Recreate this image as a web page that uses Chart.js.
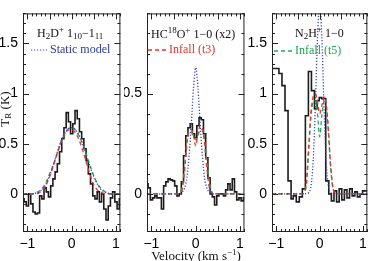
<!DOCTYPE html>
<html>
<head>
<meta charset="utf-8">
<script src="https://cdn.jsdelivr.net/npm/chart.js@4.4.1/dist/chart.umd.min.js"></script>
<style>
  body { margin: 0; background: #fff; }
  #wrap { position: relative; width: 371px; height: 261px; overflow: hidden; background: #fff; }
  canvas { position: absolute; top: 0; }
  .lbl { position: absolute; font-family: "Liberation Serif", serif; font-size: 12px; line-height: 12px; white-space: nowrap; color: #111; }
  .lbl sub, .lbl sup { font-size: 9px; line-height: 0; }
  .lbl sub { vertical-align: -2px; }
  .lbl sup { vertical-align: 5px; }
  .lbl svg { vertical-align: middle; margin-right: 3px; }
</style>
</head>
<body>
<div id="wrap">
  <canvas id="panel1" width="124" height="261" style="left:0"></canvas>
  <canvas id="panel2" width="124" height="261" style="left:124px"></canvas>
  <canvas id="panel3" width="123" height="261" style="left:248px"></canvas>

  <div class="lbl" style="left:37px; top:27px;">H<sub>2</sub>D<sup>+</sup> 1<sub>10</sub>−1<sub>11</sub></div>
  <div class="lbl" style="left:31px; top:43px; color:#2b3a9e;"><svg width="16" height="4"><line x1="0" y1="2" x2="16" y2="2" stroke="#3344cc" stroke-width="1.2" stroke-dasharray="1.2 1.8"/></svg>Static model</div>

  <div class="lbl" style="left:151px; top:28px;">HC<sup>18</sup>O<sup>+</sup> 1−0 (x2)</div>
  <div class="lbl" style="left:148px; top:43px; color:#e3342b;"><svg width="18" height="4"><line x1="0" y1="2" x2="18" y2="2" stroke="#e8332a" stroke-width="1.3" stroke-dasharray="4 3"/></svg>Infall (t3)</div>

  <div class="lbl" style="left:295px; top:27px;">N<sub>2</sub>H<sup>+</sup> 1−0</div>
  <div class="lbl" style="left:274px; top:44px; color:#22a453;"><svg width="18" height="4"><line x1="0" y1="2" x2="18" y2="2" stroke="#22aa55" stroke-width="1.3" stroke-dasharray="4 3"/></svg>Infall (t5)</div>

  <div class="lbl" style="left:-25px; top:103px; width:60px; text-align:center; transform: rotate(-90deg); font-size:13px;">T<sub>R</sub> (K)</div>
  <div class="lbl" style="left:96px; top:250px; width:200px; text-align:center; font-size:13px;">Velocity (km s<sup>−1</sup>)</div>
</div>

<script>
// tick labels
const xTicks = [-1, -0.5, 0, 0.5, 1];
const yTicksWide = [0, 0.5, 1, 1.5];
const yTicksNarrow = [0, 0.5];

// H2D+ 1_10-1_11 observed (channel centres, km/s) and models
const h2dVel = [-1.10, -1.05, -1.00, -0.95, -0.90, -0.85, -0.80, -0.75, -0.70, -0.65, -0.60, -0.55, -0.50, -0.45, -0.40, -0.35, -0.30, -0.25, -0.20, -0.15, -0.10, -0.05, 0.00, 0.05, 0.10, 0.15, 0.20, 0.25, 0.30, 0.35, 0.40, 0.45, 0.50, 0.55, 0.60, 0.65, 0.70, 0.75, 0.80, 0.85, 0.90, 0.95, 1.00, 1.05, 1.10];
const h2dObs = [-0.05, -0.08, -0.12, 0.00, -0.10, -0.18, -0.20, -0.19, -0.02, -0.05, 0.06, 0.02, -0.03, 0.08, 0.15, 0.22, 0.30, 0.42, 0.55, 0.66, 0.81, 0.72, 0.60, 0.70, 0.83, 0.75, 0.62, 0.55, 0.45, 0.33, 0.20, 0.10, -0.02, -0.05, 0.02, -0.08, 0.00, -0.15, -0.26, -0.12, -0.04, 0.02, -0.08, -0.15, -0.05];
const h2dModelVel = [-1.1, -1.0, -0.9, -0.8, -0.7, -0.6, -0.5, -0.4, -0.3, -0.2, -0.1, 0.0, 0.1, 0.2, 0.3, 0.4, 0.5, 0.6, 0.7, 0.8, 0.9, 1.0, 1.1];
const h2dStatic = [0, 0, 0, 0.01, 0.03, 0.08, 0.18, 0.31, 0.45, 0.57, 0.64, 0.66, 0.63, 0.55, 0.43, 0.29, 0.17, 0.08, 0.03, 0.01, 0, 0, 0];
const h2dInfallT3 = [0, 0, 0, 0, 0.02, 0.07, 0.17, 0.30, 0.44, 0.56, 0.63, 0.64, 0.60, 0.50, 0.36, 0.21, 0.09, 0.03, 0.01, 0, 0, 0, 0];
const h2dInfallT5 = [0, 0, 0, 0.01, 0.04, 0.10, 0.20, 0.31, 0.44, 0.56, 0.64, 0.66, 0.63, 0.55, 0.43, 0.30, 0.18, 0.09, 0.04, 0.01, 0, 0, 0];

// HC18O+ 1-0 (x2)
const hcoVel = [-1.10, -1.05, -1.00, -0.95, -0.90, -0.85, -0.80, -0.75, -0.70, -0.65, -0.60, -0.55, -0.50, -0.45, -0.40, -0.35, -0.30, -0.25, -0.20, -0.15, -0.10, -0.05, 0.00, 0.05, 0.10, 0.15, 0.20, 0.25, 0.30, 0.35, 0.40, 0.45, 0.50, 0.55, 0.60, 0.65, 0.70, 0.75, 0.80, 0.85, 0.90, 0.95, 1.00, 1.05, 1.10];
const hcoObs = [0.05, 0.03, -0.03, -0.02, -0.01, -0.02, -0.02, -0.075, 0.04, 0.06, 0.075, 0.07, 0.065, 0.04, -0.01, 0.00, 0.06, 0.19, 0.29, 0.33, 0.35, 0.30, 0.28, 0.34, 0.38, 0.37, 0.30, 0.18, 0.08, 0.00, -0.015, -0.055, -0.01, 0.00, 0.00, -0.01, 0.02, 0.05, 0.02, 0.075, 0.01, -0.03, -0.02, -0.035, -0.02];
const hcoModelVel = [-1.1, -0.4, -0.35, -0.3, -0.25, -0.2, -0.15, -0.1, -0.05, 0.0, 0.05, 0.1, 0.15, 0.2, 0.25, 0.3, 0.35, 0.4, 1.1];
const hcoStatic = [0, 0, 0.003, 0.01, 0.03, 0.08, 0.19, 0.35, 0.53, 0.63, 0.53, 0.35, 0.19, 0.08, 0.03, 0.01, 0.003, 0, 0];
const hcoInfallT3 = [0, 0, 0.005, 0.03, 0.12, 0.25, 0.31, 0.32, 0.29, 0.24, 0.30, 0.34, 0.33, 0.25, 0.13, 0.04, 0.01, 0, 0];
const hcoInfallT5 = [0, 0, 0.01, 0.04, 0.14, 0.26, 0.31, 0.31, 0.29, 0.27, 0.29, 0.32, 0.32, 0.27, 0.17, 0.07, 0.02, 0, 0];

// N2H+ 1-0 (channel left edges, values hold to the next edge)
const n2hVel = [-1.10, -0.94, -0.87, -0.80, -0.73, -0.66, -0.61, -0.54, -0.47, -0.40, -0.33, -0.26, -0.19, -0.12, -0.06, -0.01, 0.05, 0.14, 0.21, 0.27, 0.33, 0.39, 0.45, 0.51, 0.57, 0.63, 0.69, 0.75, 0.81, 0.87, 0.93, 0.99, 1.05, 1.10];
const n2hObs = [2.5, 1.25, 1.20, 1.08, 0.83, 0.13, -0.05, -0.02, -0.08, -0.03, 0.05, 0.78, 1.22, 1.03, 0.85, 0.93, 0.96, 0.95, 0.13, 0.00, -0.07, 0.03, -0.08, 0.05, -0.06, 0.04, -0.04, 0.05, -0.02, 0.02, -0.03, 0.00, 0.03, 0.03];
const n2hModelVel = [-1.1, -0.4, -0.35, -0.3, -0.25, -0.2, -0.15, -0.1, -0.05, 0.0, 0.05, 0.1, 0.15, 0.2, 0.25, 0.3, 0.35, 0.4, 1.1];
const n2hStatic = [0, 0, 0, 0.003, 0.015, 0.08, 0.33, 0.87, 1.56, 1.9, 1.56, 0.87, 0.33, 0.08, 0.015, 0.003, 0, 0, 0];
const n2hInfallT3 = [0, 0, 0.02, 0.15, 0.50, 0.82, 0.97, 1.00, 0.92, 0.80, 0.88, 0.97, 0.90, 0.65, 0.30, 0.08, 0.01, 0, 0];
const n2hInfallT5 = [0, 0, 0.02, 0.12, 0.45, 0.78, 0.92, 0.93, 0.80, 0.57, 0.78, 0.92, 0.88, 0.62, 0.28, 0.07, 0.01, 0, 0];

const OBS_COLOR = "#1c1c1c";
const STATIC_COLOR = "#3344cc";
const T3_COLOR = "#e8332a";
const T5_COLOR = "#22aa55";

function points(xs, ys) {
  return xs.map((x, i) => ({ x, y: ys[i] }));
}

function obsSet(xs, ys, stepped) {
  return {
    data: points(xs, ys),
    borderColor: OBS_COLOR,
    borderWidth: 1.6,
    pointRadius: 0,
    stepped,
    order: 4,
  };
}

function modelSet(xs, ys, color, dash, order) {
  return {
    data: points(xs, ys),
    borderColor: color,
    borderWidth: 1.3,
    borderDash: dash,
    pointRadius: 0,
    cubicInterpolationMode: "monotone",
    order,
  };
}

// frame with inward major/minor ticks on all four sides
const frameTicks = {
  id: "frameTicks",
  afterDatasetsDraw(chart) {
    const { ctx, chartArea: a, scales } = chart;
    const xs = scales.x;
    const ys = scales.y;
    ctx.save();
    ctx.strokeStyle = "#222";
    ctx.lineWidth = 1;
    ctx.strokeRect(a.left + 0.5, a.top + 0.5, a.right - a.left - 1, a.bottom - a.top - 1);
    ctx.beginPath();
    for (let i = Math.ceil(xs.min * 10 - 1e-6); i <= Math.floor(xs.max * 10 + 1e-6); i += 1) {
      const len = i % 5 === 0 ? 6 : 3;
      const px = Math.round(xs.getPixelForValue(i / 10)) + 0.5;
      ctx.moveTo(px, a.bottom);
      ctx.lineTo(px, a.bottom - len);
      ctx.moveTo(px, a.top);
      ctx.lineTo(px, a.top + len);
    }
    for (let i = Math.ceil(ys.min * 10 - 1e-6); i <= Math.floor(ys.max * 10 + 1e-6); i += 1) {
      const len = i % 5 === 0 ? 6 : 3;
      const py = Math.round(ys.getPixelForValue(i / 10)) + 0.5;
      ctx.moveTo(a.left, py);
      ctx.lineTo(a.left + len, py);
      ctx.moveTo(a.right, py);
      ctx.lineTo(a.right - len, py);
    }
    ctx.stroke();
    ctx.restore();
  },
};

const tickFont = { family: "Liberation Sans", size: 14 };
const fmt = (v) => String(v).replace("-", "\u2212");

function makePanel(id, datasets, yMin, yMax, yTicks, yWidth, padRight) {
  return new Chart(document.getElementById(id), {
    type: "line",
    data: { datasets },
    plugins: [frameTicks],
    options: {
      responsive: false,
      animation: false,
      events: [],
      layout: { padding: { top: 9, right: padRight, left: 0, bottom: 0 } },
      plugins: { legend: { display: false }, tooltip: { enabled: false } },
      scales: {
        x: {
          type: "linear",
          min: -1.1,
          max: 1.1,
          afterBuildTicks: (s) => { s.ticks = xTicks.map((value) => ({ value })); },
          afterFit: (s) => { s.height = 29; },
          ticks: { color: "#000", font: tickFont, padding: 4, maxRotation: 0, callback: fmt },
          grid: { display: false, drawTicks: false },
          border: { display: false },
        },
        y: {
          min: yMin,
          max: yMax,
          afterBuildTicks: (s) => { s.ticks = yTicks.map((value) => ({ value })); },
          afterFit: (s) => { s.width = yWidth; },
          ticks: { color: "#000", font: tickFont, padding: 5, callback: fmt },
          grid: { display: false, drawTicks: false },
          border: { display: false },
        },
      },
    },
  });
}

makePanel("panel1", [
  obsSet(h2dVel, h2dObs, "middle"),
  modelSet(h2dModelVel, h2dStatic, STATIC_COLOR, [1.2, 1.8], 1),
  modelSet(h2dModelVel, h2dInfallT3, T3_COLOR, [4, 3], 2),
  modelSet(h2dModelVel, h2dInfallT5, T5_COLOR, [4, 3], 3),
], -0.38, 1.8, yTicksWide, 23, 3);

makePanel("panel2", [
  obsSet(hcoVel, hcoObs, "middle"),
  modelSet(hcoModelVel, hcoStatic, STATIC_COLOR, [1.2, 1.8], 1),
  modelSet(hcoModelVel, hcoInfallT3, T3_COLOR, [4, 3], 2),
  modelSet(hcoModelVel, hcoInfallT5, T5_COLOR, [4, 3], 3),
], -0.19, 0.9, yTicksNarrow, 23, 2);

makePanel("panel3", [
  obsSet(n2hVel, n2hObs, "after"),
  modelSet(n2hModelVel, n2hStatic, STATIC_COLOR, [1.2, 1.8], 1),
  modelSet(n2hModelVel, n2hInfallT3, T3_COLOR, [4, 3], 2),
  modelSet(n2hModelVel, n2hInfallT5, T5_COLOR, [4, 3], 3),
], -0.38, 1.8, yTicksWide, 24, 2);
</script>
</body>
</html>
